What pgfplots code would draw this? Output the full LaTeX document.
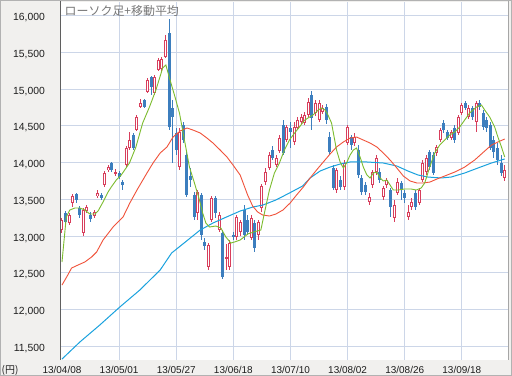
\documentclass[border=0pt]{standalone}
\usepackage{pgfplots}
\pgfplotsset{compat=1.18}
\usepackage{pgfplotstable}
\usepackage{fontspec}
\setmainfont{Liberation Sans}
\newfontfamily\jp{Noto Sans CJK JP}
\definecolor{upc}{RGB}{216,62,92}
\definecolor{dnc}{RGB}{60,126,190}
\definecolor{mafive}{RGB}{124,188,46}
\definecolor{matwf}{RGB}{240,82,58}
\definecolor{masvf}{RGB}{26,162,222}
\definecolor{gridc}{RGB}{204,214,232}
\definecolor{panel}{RGB}{241,240,238}
\definecolor{axc}{RGB}{95,95,95}
\definecolor{titlec}{RGB}{120,120,120}
\definecolor{tickc}{RGB}{30,30,30}

\pgfplotstableread{
i o h l c
0 13082 13246 13041 13219
2 13178 13314 13151 13287
3 13450 13573 13396 13546
6 13041 13382 13001 13355
7 13341 13423 13314 13396
9 13273 13355 13246 13328
10 13546 13627 13518 13586
12 13695 13886 13668 13859
13 13900 13968 13872 13940
15 13859 13913 13818 13872
18 13968 14226 13940 14199
19 14199 14417 14172 14308
21 14444 14649 14431 14621
22 14758 14867 14744 14812
24 14962 15153 14948 15125
26 14948 15194 14921 15166
27 15262 15425 15248 15398
28 15280 15440 15250 15410
29 15439 15738 15425 15670
33 13940 14472 13900 14417
38 13314 13627 13219 13600
41 12578 12905 12538 12878
42 13219 13546 13191 13518
44 13082 13328 13055 13287
46 12701 12892 12538 12715
47 12578 12946 12538 12905
49 12987 13287 12946 13260
50 13055 13219 13001 13191
53 12973 13287 12946 13246
55 13014 13219 12946 13191
56 13382 13709 13328 13682
57 13736 13927 13695 13872
58 13927 14145 13900 14104
60 13968 14104 13940 14063
61 14158 14376 14131 14335
63 14308 14513 14281 14485
65 14281 14553 14240 14485
66 14472 14621 14444 14581
67 14553 14662 14526 14621
68 14540 14690 14513 14649
69 14649 14880 14621 14826
71 14676 14853 14635 14812
72 14581 14853 14553 14812
73 14690 14785 14662 14744
77 13627 13927 13586 13900
79 13668 14036 13627 13995
80 14267 14513 14240 14485
82 14267 14404 14226 14349
86 13464 13586 13423 13532
87 13695 13900 13654 13872
88 13872 14104 13832 14063
90 13532 13682 13491 13654
91 13695 13791 13654 13763
93 13246 13491 13191 13423
94 13586 13791 13559 13736
97 13260 13423 13219 13328
98 13396 13518 13355 13464
100 13450 13654 13423 13627
101 13763 14036 13736 13995
102 13872 14104 13832 14063
105 14131 14240 14090 14213
106 14308 14472 14281 14444
109 14335 14444 14308 14417
111 14404 14649 14376 14621
112 14676 14812 14649 14785
114 14621 14785 14594 14744
116 14553 14839 14417 14812
124 13791 13968 13750 13900
}\upt

\pgfplotstableread{
i o h l c
1 13314 13341 13164 13191
4 13573 13586 13450 13491
5 13382 13409 13246 13287
8 13287 13328 13191 13232
11 13559 13586 13491 13518
14 13995 14009 13872 13900
16 13859 13886 13777 13804
17 13736 13763 13627 13695
20 14376 14404 14172 14199
23 14853 14867 14744 14758
25 15166 15180 14921 15030
30 15766 15956 14444 14485
31 14744 14853 13995 14621
32 14404 14472 14104 14172
34 14513 14553 14267 14308
35 14104 14145 13532 13559
36 13818 13927 13668 13763
37 13559 13600 13219 13260
39 13559 13586 12946 13014
40 12919 12973 12810 12864
43 13518 13546 13246 13314
45 13041 13082 12415 12442
48 13014 13055 12946 13001
51 13355 13423 12946 13014
52 13219 13287 13014 13055
54 13178 13219 12783 12837
59 14172 14226 14036 14063
62 14513 14581 14104 14131
64 14472 14553 14199 14417
70 14921 14976 14444 14608
74 14758 14799 14526 14581
75 14349 14417 14104 14145
76 13927 13968 13627 13654
78 13763 13818 13627 13668
81 14349 14376 14172 14240
83 14172 14240 13791 13832
84 13791 13832 13559 13600
85 13695 13736 13559 13600
89 13872 13927 13723 13763
92 13627 13654 13260 13396
95 13723 13750 13491 13627
96 13586 13627 13450 13518
99 13586 13627 13355 13396
103 14145 14172 13900 13940
104 14104 14145 13832 13859
107 14540 14581 14404 14444
108 14417 14444 14308 14335
110 14472 14513 14267 14308
113 14812 14839 14717 14744
115 14744 14771 14581 14621
117 14812 14853 14717 14758
118 14676 14717 14444 14485
119 14581 14621 14417 14472
120 14513 14553 14172 14199
121 14308 14363 14063 14145
122 14199 14267 13968 14036
123 13995 14104 13818 13859
}\dnt

\pgfplotstableread{
i v
0 12647
1.2 13260
2.2 13355
3.6 13382
5 13382
6.4 13355
7.8 13300
9.2 13300
10.1 13341
11.5 13464
12.9 13600
13.8 13668
15.2 13763
16.6 13832
18.9 13995
20.7 14213
22.6 14540
24.5 14758
26.3 14989
28.2 15289
29.1 15330
30.1 15153
31.5 14921
32.9 14676
34.3 14308
35.7 13940
37.1 13723
38.5 13491
39.4 13314
40.3 13178
41.3 13123
43.1 13137
44.5 13110
45.9 12987
47.3 12905
48.3 12919
49.9 12946
52.1 13030
54 13060
55.7 13082
56.7 13314
58.1 13627
59.5 13859
60.9 13995
62.3 14172
63.7 14308
65.1 14400
66.5 14485
67.9 14575
68.9 14608
70.3 14649
71.8 14717
72.7 14744
73.7 14717
74.5 14649
75.5 14540
76.9 14172
77.9 14009
78.8 13927
79.7 13995
80.7 14104
81.6 14172
82.5 14199
83.5 14077
84.4 13940
85.4 13832
86.3 13791
87.2 13859
88.2 13872
89.1 13791
90 13750
91 13763
91.9 13695
92.8 13627
94.1 13627
96 13641
97.8 13641
99.2 13627
100.6 13654
101.6 13723
103 13940
104.4 14131
105.8 14240
107.2 14308
108.6 14376
110 14417
111.4 14485
112.8 14581
114.2 14676
116.1 14758
117.5 14785
118.4 14717
119.8 14621
121.2 14485
122.1 14349
123.1 14213
124 14077
}\mafivet

\pgfplotstableread{
i v
0 12333
1.3 12442
2.7 12565
4.5 12606
6.4 12647
8.3 12715
9.7 12783
11.5 12946
14.3 13123
17.1 13260
19 13450
21 13627
23.8 13859
25.5 13995
27.5 14131
29.4 14213
31.1 14349
33.1 14431
35 14472
36.7 14444
38.7 14404
40.6 14335
42.3 14267
44.3 14172
46.2 14077
47.9 13968
49.9 13832
52 13559
53.4 13409
54.8 13328
56.2 13287
58.1 13273
59.9 13300
61.9 13355
63.9 13450
65.7 13559
67.6 13668
69.5 13791
71.3 13900
73.2 14009
75.1 14118
76.9 14213
78.8 14281
80.7 14335
82.5 14349
84.4 14308
86.3 14267
88.2 14213
90 14131
91.9 14036
93.8 13927
95.6 13818
97.5 13750
99.4 13723
101.2 13723
103.1 13736
105 13777
107.2 13818
110 13872
112.8 13940
115.6 14036
118.4 14158
120.3 14240
122.1 14281
124 14322
}\matwft

\pgfplotstableread{
i v
0 11325
5 11557
10.6 11789
16.2 12034
21.8 12265
27.5 12538
30.7 12769
34.9 12933
38.7 13082
42.3 13178
46.1 13260
49.9 13341
53.5 13396
56.3 13423
59.9 13491
63.7 13586
67.4 13682
69.5 13791
72.3 13886
75.1 13940
77.9 13981
80.7 14009
85.4 14009
90 13995
93.8 13954
96.9 13886
99.7 13832
102.5 13804
106.2 13791
109 13804
112.8 13859
116.5 13927
120.3 13995
124 14050
}\masvft

\begin{document}
\begin{tikzpicture}
\useasboundingbox (0,0) rectangle (512bp,376bp);
\fill[panel] (0,0) rectangle (512bp,376bp);
\begin{axis}[
  at={(60bp,16bp)}, anchor=south west,
  width=448bp, height=358bp, scale only axis,
  xmin=-0.56, xmax=124.93, ymin=11312, ymax=16188,
  axis background/.style={fill=white},
  axis line style={draw=none},
  major tick length=0pt,
  grid=major,
  major grid style={draw=gridc, line width=1bp},
  xtick={16,32,48,64,80,96,112},
  xticklabels={13/05/01,13/05/27,13/06/18,13/07/10,13/08/02,13/08/26,13/09/18},
  extra x ticks={0}, extra x tick labels={13/04/08},
  extra x tick style={grid=none},
  ytick={11500,12000,12500,13000,13500,14000,14500,15000,15500,16000},
  scaled y ticks=false,
  /pgf/number format/fixed,
  /pgf/number format/1000 sep={,},
  /pgf/number format/assume math mode=true,
  yticklabel style={font=\fontsize{10.4}{12}\selectfont, text=tickc, anchor=base east, inner sep=0pt, xshift=-15bp, yshift=-5bp},
  xticklabel style={font=\fontsize{10}{12}\selectfont, text=tickc, anchor=base, inner sep=0pt, yshift=-13.5bp},
  candle/.style={draw=none, no markers, forget plot,
    error bars/y dir=both, error bars/y explicit, error bars/error mark=none},
]
% wicks
\addplot[candle, error bars/error bar style={line width=1bp, draw=upc}]
  table[x=i, y expr={0.5*\thisrow{h}+0.5*\thisrow{l}}, y error expr={0.5*\thisrow{h}-0.5*\thisrow{l}}] {\upt};
\addplot[candle, error bars/error bar style={line width=1bp, draw=dnc}]
  table[x=i, y expr={0.5*\thisrow{h}+0.5*\thisrow{l}}, y error expr={0.5*\thisrow{h}-0.5*\thisrow{l}}] {\dnt};
% bodies
\addplot[candle, error bars/error bar style={line width=3bp, draw=upc}]
  table[x=i, y expr={0.5*\thisrow{o}+0.5*\thisrow{c}}, y error expr={max(0.5*\thisrow{c}-0.5*\thisrow{o},7)}] {\upt};
\addplot[candle, error bars/error bar style={line width=1bp, draw=white}]
  table[x=i, y expr={0.5*\thisrow{o}+0.5*\thisrow{c}}, y error expr={max(0.5*\thisrow{c}-0.5*\thisrow{o}-13.6,0)}] {\upt};
\addplot[candle, error bars/error bar style={line width=3bp, draw=dnc}]
  table[x=i, y expr={0.5*\thisrow{o}+0.5*\thisrow{c}}, y error expr={max(0.5*\thisrow{o}-0.5*\thisrow{c},7)}] {\dnt};
% moving averages
\addplot[masvf, line width=1bp, mark=none] table[x=i, y=v] {\masvft};
\addplot[matwf, line width=0.9bp, mark=none] table[x=i, y=v] {\matwft};
\addplot[mafive, line width=0.9bp, mark=none] table[x=i, y=v] {\mafivet};
\end{axis}
\draw[axc, line width=1bp] (60bp,16bp) -- (60bp,376bp);
\draw[black!30, line width=1bp] (60bp,375.5bp) -- (512bp,375.5bp);
\draw[black!35, line width=1bp] (508.5bp,16bp) -- (508.5bp,376bp);
\draw[black!30, line width=0.8bp] (0.4bp,0.4bp) rectangle (511.6bp,375.6bp);
\node[anchor=west, inner sep=0pt, text=titlec, font=\jp\fontsize{12}{14}\selectfont] at (64.5bp,364.8bp) {ローソク足+移動平均};
\node[anchor=base west, inner sep=0pt, text=tickc, font=\jp\fontsize{10}{12}\selectfont] at (1.5bp,3bp) {(円)};
\end{tikzpicture}
\end{document}
